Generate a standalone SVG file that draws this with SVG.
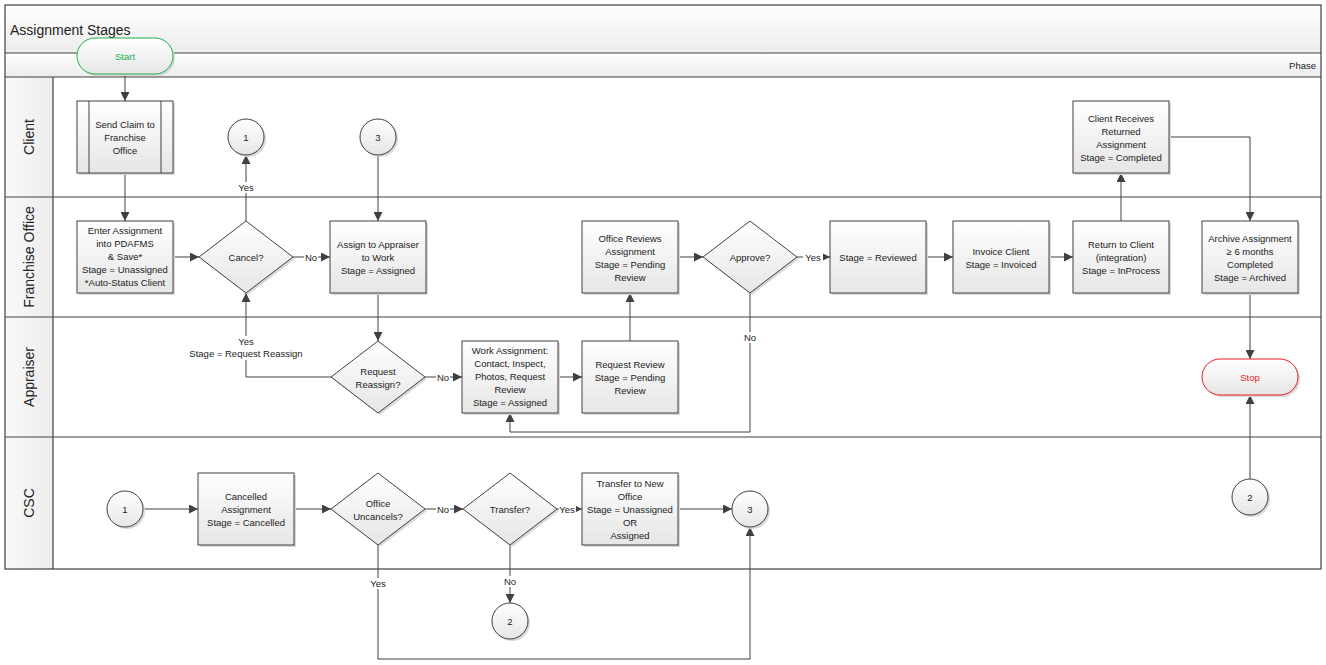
<svg xmlns="http://www.w3.org/2000/svg" width="1326" height="665" viewBox="0 0 1326 665">
<style>
.t{font-family:"Liberation Sans",Arial,sans-serif;font-size:9.5px;fill:#222;text-anchor:middle}
.lane{font-family:"Liberation Sans",Arial,sans-serif;font-size:14px;fill:#222;text-anchor:middle}
.box{fill:url(#bg);stroke:#404040;stroke-width:1}
.sh{fill:#d9d9d9}
.c{fill:none;stroke:#404040;stroke-width:1}
.lb{fill:#fff}
.frame{fill:none;stroke:#404040;stroke-width:1.2}
</style>
<defs>
<linearGradient id="bg" x1="0" y1="0" x2="0" y2="1"><stop offset="0" stop-color="#ffffff"/><stop offset="1" stop-color="#e6e6e6"/></linearGradient>
<linearGradient id="hg" x1="0" y1="0" x2="0" y2="1"><stop offset="0" stop-color="#ffffff"/><stop offset="1" stop-color="#ececec"/></linearGradient>
<linearGradient id="lg" x1="0" y1="0" x2="1" y2="0"><stop offset="0" stop-color="#fafafa"/><stop offset="1" stop-color="#ececec"/></linearGradient>
<marker id="a" viewBox="0 0 10 10" refX="10" refY="5" markerWidth="9" markerHeight="9" markerUnits="userSpaceOnUse" orient="auto"><path d="M0,0 L10,5 L0,10 z" fill="#404040"/></marker>
</defs>
<rect width="1326" height="665" fill="#fff"/>
<g id="pool">
<rect x="5" y="5" width="1316" height="48" fill="url(#hg)"/>
<rect x="5" y="53" width="1316" height="24" fill="url(#hg)"/>
<rect x="5" y="77" width="48" height="492" fill="url(#lg)"/>
<rect x="5" y="5" width="1316" height="564" class="frame"/>
<line x1="5" y1="53" x2="1321" y2="53" class="frame"/>
<line x1="5" y1="77" x2="1321" y2="77" class="frame"/>
<line x1="5" y1="197" x2="1321" y2="197" class="frame"/>
<line x1="5" y1="317" x2="1321" y2="317" class="frame"/>
<line x1="5" y1="437" x2="1321" y2="437" class="frame"/>
<line x1="53" y1="77" x2="53" y2="569" class="frame"/>
<text x="10" y="35" font-family="'Liberation Sans',Arial,sans-serif" font-size="14" fill="#222">Assignment Stages</text>
<text x="1316" y="69" font-family="'Liberation Sans',Arial,sans-serif" font-size="9.5" fill="#222" text-anchor="end">Phase</text>
<text class="lane" transform="translate(34,137) rotate(-90)">Client</text>
<text class="lane" transform="translate(34,257) rotate(-90)">Franchise Office</text>
<text class="lane" transform="translate(34,377) rotate(-90)">Appraiser</text>
<text class="lane" transform="translate(34,503) rotate(-90)">CSC</text>
</g>
<g id="connectors">
<path class="c" d="M125,74 V101" marker-end="url(#a)"/>
<path class="c" d="M125,173 V221" marker-end="url(#a)"/>
<path class="c" d="M173,257 H199" marker-end="url(#a)"/>
<path class="c" d="M246,221 V155" marker-end="url(#a)"/>
<path class="c" d="M293,257 H330" marker-end="url(#a)"/>
<path class="c" d="M378,155 V221" marker-end="url(#a)"/>
<path class="c" d="M378,293 V341" marker-end="url(#a)"/>
<path class="c" d="M331,377 H246 V293" marker-end="url(#a)"/>
<path class="c" d="M425,377 H462" marker-end="url(#a)"/>
<path class="c" d="M558,377 H582" marker-end="url(#a)"/>
<path class="c" d="M630,341 V293" marker-end="url(#a)"/>
<path class="c" d="M678,257 H703" marker-end="url(#a)"/>
<path class="c" d="M797,257 H830" marker-end="url(#a)"/>
<path class="c" d="M750,293 V432 H510 V413" marker-end="url(#a)"/>
<path class="c" d="M926,257 H953" marker-end="url(#a)"/>
<path class="c" d="M1049,257 H1073" marker-end="url(#a)"/>
<path class="c" d="M1121,221 V173" marker-end="url(#a)"/>
<path class="c" d="M1169,137 H1250 V221" marker-end="url(#a)"/>
<path class="c" d="M1250,293 V359" marker-end="url(#a)"/>
<path class="c" d="M1250,479 V395" marker-end="url(#a)"/>
<path class="c" d="M143,509 H198" marker-end="url(#a)"/>
<path class="c" d="M294,509 H331" marker-end="url(#a)"/>
<path class="c" d="M425,509 H463" marker-end="url(#a)"/>
<path class="c" d="M557,509 H582" marker-end="url(#a)"/>
<path class="c" d="M678,509 H732" marker-end="url(#a)"/>
<path class="c" d="M510,545 V603" marker-end="url(#a)"/>
<path class="c" d="M378,545 V659 H750 V527" marker-end="url(#a)"/>
<rect class="lb" x="236" y="182" width="20" height="11"/><text class="t" x="246" y="191">Yes</text>
<rect class="lb" x="304" y="252" width="14" height="11"/><text class="t" x="311" y="261">No</text>
<rect class="lb" x="190" y="336" width="112" height="24"/><text class="t" x="246" y="345">Yes</text><text class="t" x="246" y="357">Stage = Request Reassign</text>
<rect class="lb" x="436" y="372" width="14" height="11"/><text class="t" x="443" y="381">No</text>
<rect class="lb" x="803" y="252" width="20" height="11"/><text class="t" x="813" y="261">Yes</text>
<rect class="lb" x="743" y="332" width="14" height="11"/><text class="t" x="750" y="341">No</text>
<rect class="lb" x="436" y="504" width="14" height="11"/><text class="t" x="443" y="513">No</text>
<rect class="lb" x="559" y="504" width="17" height="11"/><text class="t" x="567" y="513">Yes</text>
<rect class="lb" x="503" y="576" width="14" height="11"/><text class="t" x="510" y="585">No</text>
<rect class="lb" x="368" y="578" width="20" height="11"/><text class="t" x="378" y="587">Yes</text>
</g>
<g id="start"><rect x="79" y="40" width="96" height="36" rx="18" class="sh"/><rect x="77" y="38" width="96" height="36" rx="18" fill="url(#bg)" stroke="#22b04a" stroke-width="1"/><text class="t" x="125" y="60" fill="#22b04a" style="fill:#22b04a">Start</text></g>
<g id="send-claim"><rect x="79" y="103" width="96" height="72" class="sh"/><rect x="77" y="101" width="96" height="72" class="box"/><line x1="89" y1="101" x2="89" y2="173" class="c"/><line x1="161" y1="101" x2="161" y2="173" class="c"/><text class="t" x="125" y="128">Send Claim to</text><text class="t" x="125" y="141">Franchise</text><text class="t" x="125" y="154">Office</text></g>
<g id="enter-assignment"><rect x="79" y="223" width="96" height="72" class="sh"/><rect x="77" y="221" width="96" height="72" class="box"/><text class="t" x="125" y="234">Enter Assignment</text><text class="t" x="125" y="247">into PDAFMS</text><text class="t" x="125" y="260">&amp; Save*</text><text class="t" x="125" y="273">Stage = Unassigned</text><text class="t" x="125" y="286">*Auto-Status Client</text></g>
<g id="cancel"><path d="M248,223 L295,259 L248,295 L201,259 z" class="sh"/><path d="M246,221 L293,257 L246,293 L199,257 z" class="box"/><text class="t" x="246" y="261">Cancel?</text></g>
<g id="conn1-client"><circle cx="248" cy="139" r="18" class="sh"/><circle cx="246" cy="137" r="18" class="box"/><text class="t" x="246" y="141">1</text></g>
<g id="conn3-client"><circle cx="380" cy="139" r="18" class="sh"/><circle cx="378" cy="137" r="18" class="box"/><text class="t" x="378" y="141">3</text></g>
<g id="assign-appraiser"><rect x="332" y="223" width="96" height="72" class="sh"/><rect x="330" y="221" width="96" height="72" class="box"/><text class="t" x="378" y="248">Assign to Appraiser</text><text class="t" x="378" y="261">to Work</text><text class="t" x="378" y="274">Stage = Assigned</text></g>
<g id="request-reassign"><path d="M380,343 L427,379 L380,415 L333,379 z" class="sh"/><path d="M378,341 L425,377 L378,413 L331,377 z" class="box"/><text class="t" x="378" y="375">Request</text><text class="t" x="378" y="388">Reassign?</text></g>
<g id="work-assignment"><rect x="464" y="343" width="96" height="72" class="sh"/><rect x="462" y="341" width="96" height="72" class="box"/><text class="t" x="510" y="354">Work Assignment:</text><text class="t" x="510" y="367">Contact, Inspect,</text><text class="t" x="510" y="380">Photos, Request</text><text class="t" x="510" y="393">Review</text><text class="t" x="510" y="406">Stage = Assigned</text></g>
<g id="request-review"><rect x="584" y="343" width="96" height="72" class="sh"/><rect x="582" y="341" width="96" height="72" class="box"/><text class="t" x="630" y="368">Request Review</text><text class="t" x="630" y="381">Stage = Pending</text><text class="t" x="630" y="394">Review</text></g>
<g id="office-reviews"><rect x="584" y="223" width="96" height="72" class="sh"/><rect x="582" y="221" width="96" height="72" class="box"/><text class="t" x="630" y="242">Office Reviews</text><text class="t" x="630" y="255">Assignment</text><text class="t" x="630" y="268">Stage = Pending</text><text class="t" x="630" y="281">Review</text></g>
<g id="approve"><path d="M752,223 L799,259 L752,295 L705,259 z" class="sh"/><path d="M750,221 L797,257 L750,293 L703,257 z" class="box"/><text class="t" x="750" y="261">Approve?</text></g>
<g id="reviewed"><rect x="832" y="223" width="96" height="72" class="sh"/><rect x="830" y="221" width="96" height="72" class="box"/><text class="t" x="878" y="261">Stage = Reviewed</text></g>
<g id="invoice"><rect x="955" y="223" width="96" height="72" class="sh"/><rect x="953" y="221" width="96" height="72" class="box"/><text class="t" x="1001" y="255">Invoice Client</text><text class="t" x="1001" y="268">Stage = Invoiced</text></g>
<g id="return-client"><rect x="1075" y="223" width="96" height="72" class="sh"/><rect x="1073" y="221" width="96" height="72" class="box"/><text class="t" x="1121" y="248">Return to Client</text><text class="t" x="1121" y="261">(integration)</text><text class="t" x="1121" y="274">Stage = InProcess</text></g>
<g id="client-receives"><rect x="1075" y="103" width="96" height="72" class="sh"/><rect x="1073" y="101" width="96" height="72" class="box"/><text class="t" x="1121" y="122">Client Receives</text><text class="t" x="1121" y="135">Returned</text><text class="t" x="1121" y="148">Assignment</text><text class="t" x="1121" y="161">Stage = Completed</text></g>
<g id="archive"><rect x="1204" y="223" width="96" height="72" class="sh"/><rect x="1202" y="221" width="96" height="72" class="box"/><text class="t" x="1250" y="242">Archive Assignment</text><text class="t" x="1250" y="255">≥ 6 months</text><text class="t" x="1250" y="268">Completed</text><text class="t" x="1250" y="281">Stage = Archived</text></g>
<g id="stop"><rect x="1204" y="361" width="96" height="36" rx="18" class="sh"/><rect x="1202" y="359" width="96" height="36" rx="18" fill="url(#bg)" stroke="#ee1c24" stroke-width="1"/><text class="t" x="1250" y="381" style="fill:#ee1c24">Stop</text></g>
<g id="conn2-right"><circle cx="1252" cy="499" r="18" class="sh"/><circle cx="1250" cy="497" r="18" class="box"/><text class="t" x="1250" y="501">2</text></g>
<g id="conn1-csc"><circle cx="127" cy="511" r="18" class="sh"/><circle cx="125" cy="509" r="18" class="box"/><text class="t" x="125" y="513">1</text></g>
<g id="cancelled"><rect x="200" y="475" width="96" height="72" class="sh"/><rect x="198" y="473" width="96" height="72" class="box"/><text class="t" x="246" y="500">Cancelled</text><text class="t" x="246" y="513">Assignment</text><text class="t" x="246" y="526">Stage = Cancelled</text></g>
<g id="office-uncancels"><path d="M380,475 L427,511 L380,547 L333,511 z" class="sh"/><path d="M378,473 L425,509 L378,545 L331,509 z" class="box"/><text class="t" x="378" y="507">Office</text><text class="t" x="378" y="520">Uncancels?</text></g>
<g id="transfer"><path d="M512,475 L559,511 L512,547 L465,511 z" class="sh"/><path d="M510,473 L557,509 L510,545 L463,509 z" class="box"/><text class="t" x="510" y="513">Transfer?</text></g>
<g id="transfer-new"><rect x="584" y="475" width="96" height="72" class="sh"/><rect x="582" y="473" width="96" height="72" class="box"/><text class="t" x="630" y="487">Transfer to New</text><text class="t" x="630" y="500">Office</text><text class="t" x="630" y="513">Stage = Unassigned</text><text class="t" x="630" y="526">OR</text><text class="t" x="630" y="539">Assigned</text></g>
<g id="conn3-csc"><circle cx="752" cy="511" r="18" class="sh"/><circle cx="750" cy="509" r="18" class="box"/><text class="t" x="750" y="513">3</text></g>
<g id="conn2-bottom"><circle cx="512" cy="623" r="18" class="sh"/><circle cx="510" cy="621" r="18" class="box"/><text class="t" x="510" y="625">2</text></g>
</svg>
